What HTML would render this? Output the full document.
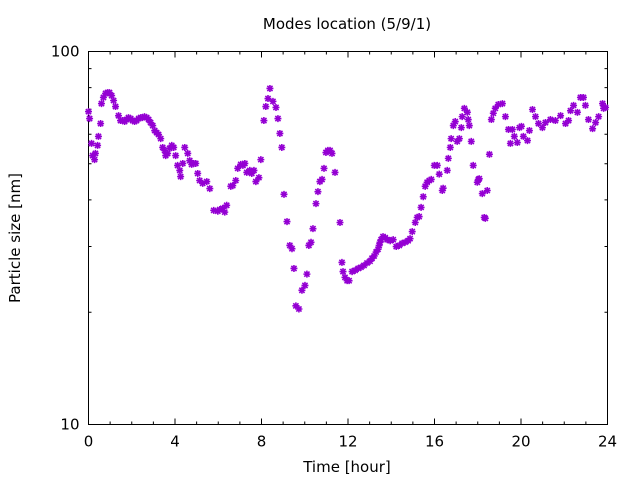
<!DOCTYPE html>
<html><head><meta charset="utf-8"><style>
body{margin:0;background:#fff;}
svg{display:block;font-family:"DejaVu Sans","Liberation Sans",sans-serif;}
</style></head><body>
<svg id="chart" width="640" height="480">
<rect width="640" height="480" fill="#fff"/>
<text x="347" y="29" text-anchor="middle" font-size="15">Modes location (5/9/1)</text>
<text x="347" y="472" text-anchor="middle" font-size="15">Time [hour]</text>
<text transform="translate(20,238) rotate(-90)" text-anchor="middle" font-size="15">Particle size [nm]</text>
<g id="axes"></g>
<g id="points"></g>
</svg>
<script>
const hours=[0,0.05,0.14,0.19,0.28,0.32,0.42,0.46,0.56,0.6,0.69,0.79,0.88,0.97,1.07,1.16,1.25,1.39,1.48,1.58,1.67,1.76,1.85,1.95,2.04,2.13,2.22,2.32,2.41,2.5,2.59,2.69,2.78,2.87,2.97,3.06,3.15,3.24,3.34,3.43,3.52,3.57,3.66,3.75,3.85,3.94,4.03,4.12,4.22,4.26,4.36,4.45,4.59,4.68,4.77,4.87,4.96,5.05,5.14,5.28,5.47,5.61,5.79,5.98,6.07,6.21,6.3,6.39,6.58,6.67,6.81,6.9,7.04,7.14,7.23,7.32,7.46,7.55,7.65,7.74,7.88,7.97,8.11,8.2,8.3,8.39,8.53,8.67,8.76,8.85,8.94,9.04,9.18,9.31,9.41,9.5,9.59,9.73,9.87,10.01,10.1,10.19,10.29,10.38,10.52,10.61,10.7,10.8,10.89,10.98,11.07,11.17,11.26,11.4,11.63,11.72,11.77,11.86,11.96,12.05,12.19,12.33,12.47,12.6,12.74,12.88,13.02,13.11,13.21,13.3,13.39,13.44,13.48,13.53,13.62,13.72,13.81,13.95,14.09,14.23,14.37,14.5,14.64,14.78,14.87,14.97,15.11,15.2,15.29,15.38,15.48,15.57,15.66,15.76,15.85,15.99,16.13,16.22,16.36,16.4,16.59,16.64,16.73,16.77,16.87,16.96,17.05,17.15,17.24,17.28,17.38,17.52,17.56,17.61,17.7,17.79,17.98,18.03,18.07,18.21,18.3,18.35,18.44,18.54,18.63,18.72,18.81,18.95,19.14,19.28,19.42,19.51,19.6,19.69,19.83,19.93,20.02,20.11,20.3,20.39,20.53,20.67,20.81,20.99,21.13,21.36,21.59,21.83,22.06,22.2,22.29,22.43,22.61,22.75,22.89,22.98,23.12,23.31,23.45,23.59,23.77,23.82,23.91];
const sizes=[69,66.1,56.7,52.6,51.3,53.3,56,59.2,64.1,72.5,75.3,77.2,77.6,77.6,76.2,73.9,71.2,67.3,65.3,65.3,64.9,65.7,66.5,66.1,65.3,64.9,65.3,66.1,66.5,66.5,66.9,66.5,65.7,64.5,63.3,61.4,60.6,59.9,58.4,55.3,54.3,52.6,53.3,55,56,55.3,52.6,49.5,48,46.2,50.1,55.3,53.3,51,49.8,50.1,50.1,47.1,45.1,44.3,44.8,42.9,37.5,37.3,37.7,38,37.1,38.7,43.5,43.7,45.1,48.6,49.8,49.5,50.1,47.4,48,47.1,48,44.8,45.9,51.3,65.3,71.2,74.8,79.6,73.5,70.8,66.1,60.3,55.3,41.4,35,30.2,29.6,26.2,20.8,20.4,22.9,23.6,25.3,30.2,30.8,33.5,39.1,42.1,44.8,45.4,48.6,53.6,54.3,54.3,53.3,47.4,34.8,27.2,25.7,24.8,24.3,24.3,25.7,25.9,26.2,26.4,26.7,27.1,27.4,27.9,28.3,29,29.5,30.2,30.8,31.3,31.9,31.7,31.3,31.1,31.3,30,30.2,30.6,30.8,31.1,31.5,32.9,34.8,35.9,36.1,38.2,40.8,43.5,44.6,45.1,45.4,49.5,49.5,46.9,42.4,43,48,51.7,55.3,58.4,63.3,64.9,57.4,58.4,62.5,66.9,70.4,68.7,65.7,63.3,57.4,49.5,44.6,45.4,45.6,41.6,35.9,35.7,42.4,53,65.7,68.3,70.4,72.1,72.5,66.9,61.8,56.7,61.8,59.2,57,62.5,63,59.2,57.7,61.4,69.9,66.9,64.1,62.5,64.5,65.7,65.3,67.3,64.1,65.3,69.4,71.7,68.7,75.3,75.3,71.7,65.7,62.1,64.5,66.9,72.5,70.4,70.8];
const xTicks=[0,4,8,12,16,20,24];
const yTicks=[10,100];
const X0=88.5,X1=607.5,Y0=424.5,Y1=51.5;
const xScale=h=>X0+(h-0)/24*(X1-X0);
const yScale=v=>Y0-(Math.log10(v)-1)*(Y0-Y1);
const NS="http://www.w3.org/2000/svg";
const axes=document.getElementById('axes');
function mk(tag,attrs,parent){const e=document.createElementNS(NS,tag);for(const k in attrs)e.setAttribute(k,attrs[k]);parent.appendChild(e);return e;}
let frame=mk('rect',{x:X0,y:Y1,width:X1-X0,height:Y0-Y1,fill:'none',stroke:'#000','stroke-width':1},axes);


for(let h=0;h<=24;h++){
  const x=xScale(h);const major=h%4===0;const L=major?6:3;
  let t=mk('path',{d:`M${x},${Y0}v${-L}M${x},${Y1}v${L}`,stroke:'#000','stroke-width':1},axes);
  
  
}
xTicks.forEach(h=>{
  let t=mk('text',{x:xScale(h),y:Y0+22,'text-anchor':'middle','font-size':15},axes);
  t.textContent=String(h);
  
  
});
for(let v=10;v<=100;v+=10){
  const y=yScale(v);const major=(v===10||v===100);const L=major?6:3;
  let t=mk('path',{d:`M${X0},${y}h${L}M${X1},${y}h${-L}`,stroke:'#000','stroke-width':1},axes);
  
  
}
yTicks.forEach(v=>{
  let t=mk('text',{x:X0-9,y:yScale(v)+5,'text-anchor':'end','font-size':15},axes);
  t.textContent=String(v);
  
  
});
const pts=document.getElementById('points');
hours.forEach((h,i)=>{
  const x=xScale(h),y=yScale(sizes[i]),r=3.5,d=2.6;
  let p=mk('path',{d:`M${x-r},${y}h${2*r}M${x},${y-r}v${2*r}M${x-d},${y-d}l${2*d},${2*d}M${x-d},${y+d}l${2*d},${-2*d}`,stroke:'#9400d3','stroke-width':1.6,fill:'none'},pts);
  
  
});
</script>
</body></html>
